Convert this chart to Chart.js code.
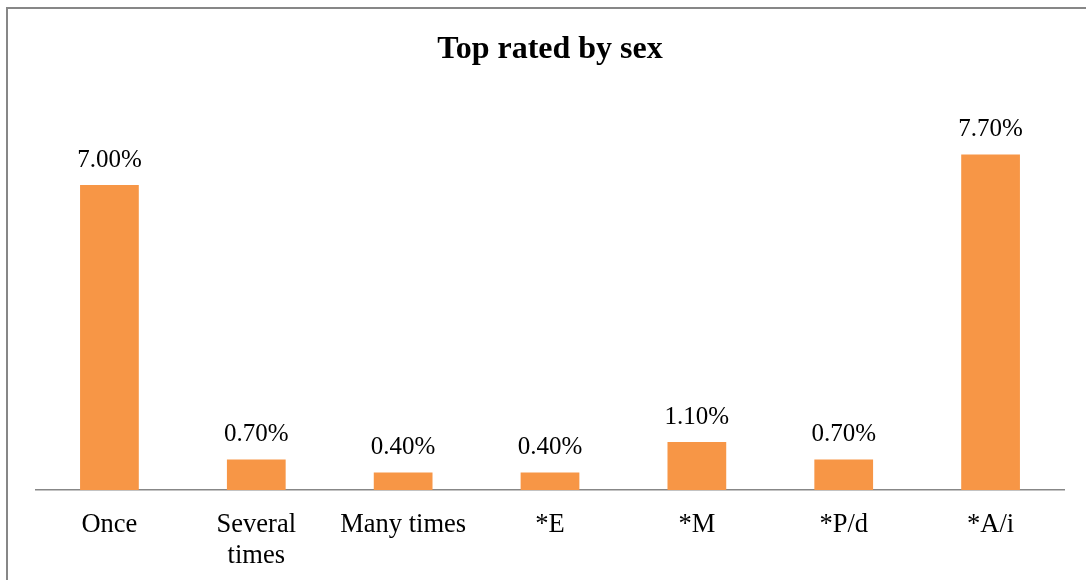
<!DOCTYPE html>
<html>
<head>
<meta charset="utf-8">
<script src="https://cdn.jsdelivr.net/npm/chart.js@4/dist/chart.umd.min.js"></script>
<style>
html,body{margin:0;padding:0;background:#fff;overflow:hidden;}
#wrap{position:relative;width:1086px;height:580px;}
#frame{position:absolute;left:6px;top:7px;width:1200px;height:700px;border:2px solid #878787;box-sizing:border-box;}
canvas{position:absolute;left:0;top:0;}
</style>
</head>
<body>
<div id="wrap">
<div id="frame"></div>
<canvas id="c" width="1086" height="580"></canvas>
</div>
<script>
const categories = ['Once', ['Several','times'], 'Many times', '*E', '*M', '*P/d', '*A/i'];
const values = [7.0, 0.7, 0.4, 0.4, 1.1, 0.7, 7.7];
const titleText = 'Top rated by sex';

const serif = '"Liberation Serif", "Times New Roman", serif';

const labelPlugin = {
  id: 'valueLabels',
  afterDatasetsDraw(chart) {
    const ctx = chart.ctx;
    const meta = chart.getDatasetMeta(0);
    ctx.save();
    ctx.font = '25px ' + serif;
    ctx.fillStyle = '#000';
    ctx.textAlign = 'center';
    ctx.textBaseline = 'middle';
    meta.data.forEach((bar, i) => {
      ctx.fillText(values[i].toFixed(2) + '%', bar.x, bar.y - 25);
    });
    ctx.restore();
  }
};

new Chart(document.getElementById('c'), {
  type: 'bar',
  data: {
    labels: categories,
    datasets: [{
      data: values,
      backgroundColor: '#F79646',
      borderWidth: 0,
      categoryPercentage: 1.0,
      barPercentage: 0.4
    }]
  },
  options: {
    responsive: false,
    animation: false,
    layout: { padding: { left: 36, right: 22, top: 0, bottom: 0 } },
    plugins: {
      legend: { display: false },
      tooltip: { enabled: false },
      title: {
        display: true,
        text: titleText,
        color: '#000',
        font: { family: serif, size: 32, weight: 'bold', lineHeight: 1.2 },
        padding: { top: 31, bottom: 28.6 }
      }
    },
    scales: {
      x: {
        grid: { display: false },
        border: { display: true, color: '#878787', width: 1.5 },
        ticks: {
          color: '#000',
          font: { family: serif, size: 26.5, lineHeight: 1.15 },
          padding: 12,
          maxRotation: 0,
          autoSkip: false
        },
        afterFit(scale) { scale.height = 90; }
      },
      y: {
        display: false,
        min: 0,
        max: 9
      }
    }
  },
  plugins: [labelPlugin]
});
</script>
</body>
</html>
